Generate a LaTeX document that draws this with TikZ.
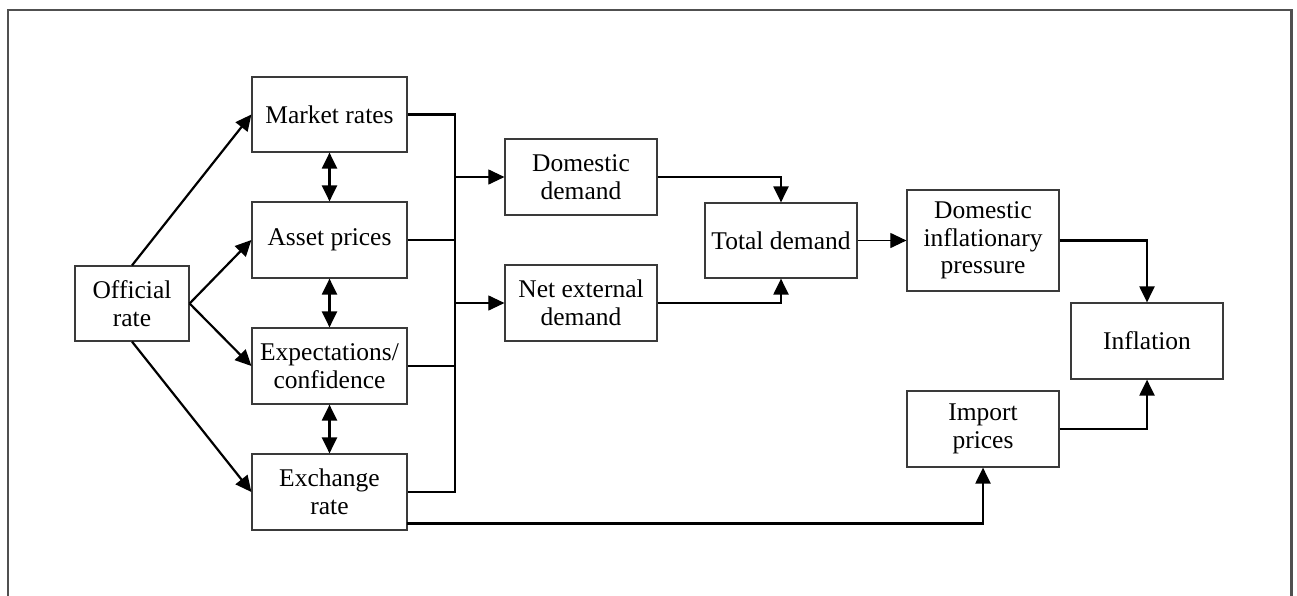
\documentclass[tikz,border=0pt]{standalone}
\usepackage{fontspec}
\setmainfont{Liberation Serif}
\usetikzlibrary{arrows.meta}
\definecolor{boxgray}{HTML}{3A3A3A}
\definecolor{framegray}{HTML}{505050}
\tikzset{
  box/.style={draw=boxgray, line width=1.2pt, minimum width=152pt, minimum height=76pt,
    inner sep=0pt, align=center, font=\fontsize{25.5}{27.5}\selectfont},
  thick line/.style={line width=2.2pt, draw=black},
  thin line/.style={line width=1.1pt, draw=black},
  tip/.style={-{Triangle[length=16pt,width=15pt]}},
  dtip/.style={{Triangle[length=16pt,width=15pt]}-{Triangle[length=16pt,width=15pt]}},
}
\begin{document}
\begin{tikzpicture}[x=1pt,y=-1pt]
\useasboundingbox (0,0) rectangle (1297,595);
% frame
\draw[framegray, line width=2.2pt] (8,600) -- (8,10) -- (1291.5,10) -- (1291.5,600);
% nodes
\node[box, minimum width=114pt, minimum height=75pt] (off) at (132,303.5) {Official\\rate};
\node[box, minimum width=155pt, minimum height=75pt] (mr) at (329.5,114.5) {Market rates};
\node[box, minimum width=155pt] (ap) at (329.5,240) {Asset prices};
\node[box, minimum width=155pt] (ex) at (329.5,366) {Expectations/\\confidence};
\node[box, minimum width=155pt] (er) at (329.5,492) {Exchange\\rate};
\node[box] (dd) at (581,177) {Domestic\\demand};
\node[box] (ned) at (581,303) {Net external\\demand};
\node[box, minimum height=75pt] (td) at (781,240.5) {Total demand};
\node[box, minimum height=101pt] (dip) at (983,240.5) {Domestic\\inflationary\\pressure};
\node[box] (inf) at (1147,341) {Inflation};
\node[box] (imp) at (983,429) {Import\\prices};
% bus coordinates
\coordinate (btop) at (455,114.5);
\coordinate (bbot) at (455,492);
\coordinate (bdd) at (455,177);
\coordinate (bned) at (455,303);
% official rate arrows
\draw[thick line, tip] (off.north) -- (mr.west);
\draw[thick line, tip] (off.east) -- (ap.west);
\draw[thick line, tip] (off.east) -- (ex.west);
\draw[thick line, tip] (off.south) -- (er.west);
% double arrows
\draw[thick line, dtip] (mr.south) -- (ap.north);
\draw[thick line, dtip] (ap.south) -- (ex.north);
\draw[thick line, dtip] (ex.south) -- (er.north);
% bus
\draw[thick line] (mr.east) -- (btop) -- (bbot) -- (er.east);
\draw[thin line] (ap.east) -- (ap.east -| btop);
\draw[thin line] (ex.east) -- (ex.east -| btop);
\draw[thin line, tip] (bdd) -- (dd.west);
\draw[thin line, tip] (bned) -- (ned.west);
% demand
\draw[thick line, tip] (dd.east) -| (td.north);
\draw[thick line, tip] (ned.east) -| (td.south);
\draw[thin line, tip] (td.east) -- (dip.west);
\draw[thick line, tip] (dip.east) -| (inf.north);
\draw[thick line, tip] (imp.east) -| (inf.south);
\coordinate (erb) at (407,523.5);
\draw[thick line, tip] (erb) -| (imp.south);
\end{tikzpicture}
\end{document}
